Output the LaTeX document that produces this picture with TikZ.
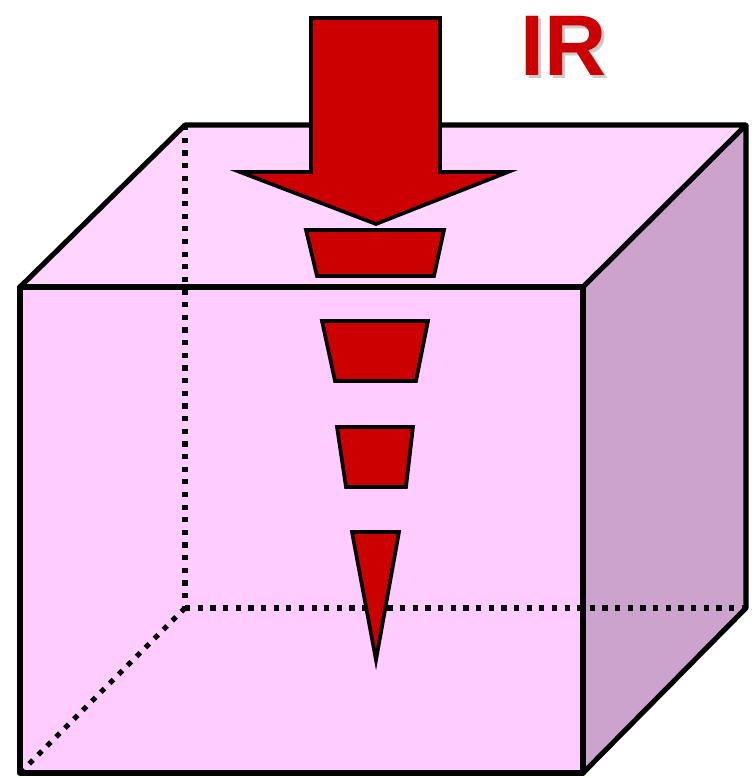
\documentclass[tikz,border=0pt]{standalone}
\usepackage{fontspec}
\newfontfamily\irfont{Liberation Sans}
\definecolor{rosa}{HTML}{FFCCFF}
\definecolor{rosatopo}{HTML}{FFD4FF}
\definecolor{rosaesc}{HTML}{CCA3CC}
\definecolor{verm}{HTML}{CC0000}
\tikzset{
  fc/.style = {fill=rosa, draw=none},
  ft/.style = {fill=rosatopo, draw=none},
  lat/.style = {fill=rosaesc, draw=none},
  ed/.style = {draw=black, line width=2.9pt, line join=round},
  oc/.style = {draw=black, line width=3pt, dash pattern=on 3pt off 4.2pt},
  ar/.style = {fill=verm, draw=black, line width=2.1pt, line join=miter},
  rot/.style = {font=\irfont\bfseries\fontsize{49}{49}\selectfont, inner sep=0pt}
}

\begin{document}
\begin{tikzpicture}[x=0.02cm, y=-0.02cm]
  \useasboundingbox (0,0) rectangle (756,778);
  % cantos do cubo
  \coordinate (A) at (20,287);
  \coordinate (B) at (583,287);
  \coordinate (C) at (583,773);
  \coordinate (D) at (20,773);
  \coordinate (E) at (185,125);
  \coordinate (F) at (746,125);
  \coordinate (G) at (746,608);
  \coordinate (H) at (185,608);

  \fill [ft] (A) -- (E) -- (F) -- (B) -- cycle;
  \fill [fc] (A) -- (B) -- (C) -- (D) -- cycle;
  \fill [lat] (B) -- (F) -- (G) -- (C) -- cycle;

  % arestas ocultas
  \draw [oc] (E) -- (H);
  \draw [oc] (H) -- (G);
  \draw [oc] (H) -- (D);

  \draw [ed] (A) -- (B) -- (C) -- (D) -- cycle;
  \draw [ed] (A) -- (E) -- (F) -- (B);
  \draw [ed] (F) -- (G) -- (C);

  % seta e pedacos
  \draw [ar] (311,18) -- (440,18) -- (440,172) -- (508,172) -- (376,224)
    -- (240,172) -- (311,172) -- cycle;
  \draw [ar] (306,230) -- (444,230) -- (434,276) -- (317,276) -- cycle;
  \draw [ar] (322,321) -- (428,321) -- (416,381) -- (335,381) -- cycle;
  \draw [ar] (337,427) -- (413,427) -- (406,487) -- (346,487) -- cycle;
  \draw [ar] (352,532) -- (399,532) -- (376,660) -- cycle;

  \node [rot, anchor=base, text=black, opacity=0.2] at (567,78) {IR};
  \node [rot, anchor=base, text=verm] (ir) at (564,75) {IR};
\end{tikzpicture}
\end{document}
